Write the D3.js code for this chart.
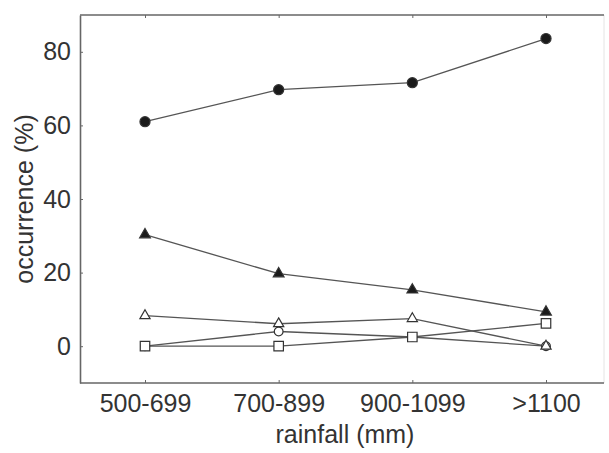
<!DOCTYPE html>
<html>
<head>
<meta charset="utf-8">
<script src="https://cdn.jsdelivr.net/npm/d3@7"></script>
<style>
  body { margin: 0; background: #fff; }
  .axis text { font-family: "Liberation Sans", Arial, sans-serif; font-size: 25px; fill: #333; }
  .axis path, .axis line { stroke: #666; }
</style>
</head>
<body>
<div class="chart"></div>
<script>
// categories on the x axis
const rainfall = ['500-699', '700-899', '900-1099', '>1100']
// occurrence (%) per series
const filledCircle = [61, 69.7, 71.6, 83.6]
const filledTriangle = [30.3, 19.7, 15.3, 9.3]
const openCircle = [0, 4, 2.5, 0]
const openTriangle = [8.3, 6.1, 7.5, 0]
const openSquare = [0, 0, 2.5, 6.2]
const yTicks = [0, 20, 40, 60, 80]

const series = [
  {values: filledCircle, symbol: d3.symbolCircle, size: 80, fill: '#1a1a1a'},
  {values: filledTriangle, symbol: d3.symbolTriangle, size: 50, fill: '#1a1a1a'},
  {values: openCircle, symbol: d3.symbolCircle, size: 60, fill: '#fff'},
  {values: openTriangle, symbol: d3.symbolTriangle, size: 45, fill: '#fff'},
  {values: openSquare, symbol: d3.symbolSquare, size: 90, fill: '#fff'}
]

const width = 609, height = 453
const margin = ({top: 15, right: 5, bottom: 70, left: 80})
const w = width - margin.left - margin.right,
  h = height - margin.top - margin.bottom

const svg = d3.select('.chart').append('svg')
  .attr('width', width)
  .attr('height', height)
const g = svg.append('g')
  .attr('transform', `translate(${margin.left},${margin.top})`)

// first and last category sit a bit in from the frame
const x = d3.scalePoint()
  .domain(rainfall)
  .range([65, w - 58])

const y = d3.scaleLinear()
  .domain([-10, 90])
  .range([h, 0])

// frame: right side is very faint in the original
g.append('line')
  .attr('x1', w).attr('x2', w)
  .attr('y1', 0).attr('y2', h)
  .attr('stroke', '#e4e4e4')
g.append('line')
  .attr('x1', 0).attr('x2', w)
  .attr('y1', 0).attr('y2', 0)
  .attr('stroke', '#666').attr('stroke-width', 1.6)
g.append('line')
  .attr('x1', 0).attr('x2', w)
  .attr('y1', h).attr('y2', h)
  .attr('stroke', '#666').attr('stroke-width', 1.6)

g.append('g')
  .attr('class', 'axis')
  .call(d3.axisTop(x).tickSizeInner(-3).tickSizeOuter(0).tickFormat(''))
  .select('.domain').remove()

g.append('g')
  .attr('class', 'axis')
  .attr('transform', `translate(0,${h})`)
  .call(d3.axisBottom(x).tickSizeInner(-3).tickSizeOuter(0).tickPadding(11))
  .select('.domain').remove()

g.append('g')
  .attr('class', 'axis')
  .call(d3.axisLeft(y).tickValues(yTicks).tickSizeInner(-3).tickSizeOuter(0).tickPadding(9))
  .selectAll('path').attr('stroke-width', 1.6)

g.selectAll('.axis .tick line').attr('stroke', '#999')

const line = d3.line()
  .x((d, i) => x(rainfall[i]))
  .y(d => y(d))

series.forEach(s => {
  g.append('path')
    .datum(s.values)
    .attr('d', line)
    .attr('fill', 'none')
    .attr('stroke', '#555')
    .attr('stroke-width', 1.3)
})

series.forEach(s => {
  g.selectAll(null)
    .data(s.values)
    .enter()
    .append('path')
    .attr('d', d3.symbol(s.symbol, s.size))
    .attr('transform', (d, i) => `translate(${x(rainfall[i])},${y(d)})`)
    .attr('fill', s.fill)
    .attr('stroke', '#333')
    .attr('stroke-width', 1.2)
})

svg.append('text')
  .attr('x', margin.left + w / 2 + 3)
  .attr('y', 443)
  .attr('text-anchor', 'middle')
  .attr('font-family', '"Liberation Sans", Arial, sans-serif')
  .attr('font-size', 25)
  .attr('fill', '#333')
  .text('rainfall (mm)')

svg.append('text')
  .attr('transform', `translate(33,${margin.top + h / 2}) rotate(-90)`)
  .attr('text-anchor', 'middle')
  .attr('font-family', '"Liberation Sans", Arial, sans-serif')
  .attr('font-size', 25)
  .attr('fill', '#333')
  .text('occurrence (%)')
</script>
</body>
</html>
